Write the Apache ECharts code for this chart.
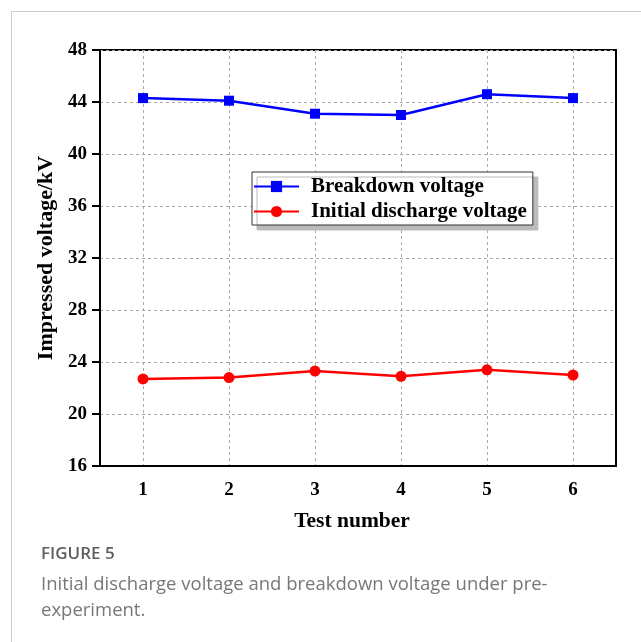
<!DOCTYPE html>
<html><head><meta charset="utf-8">
<script src="https://cdn.jsdelivr.net/npm/echarts@6/dist/echarts.min.js"></script>
<style>html,body{margin:0;padding:0;background:#fff;}#c{width:641px;height:642px;}</style>
</head><body><div id="c"></div>
<script>
const categories = ['1', '2', '3', '4', '5', '6'];
const breakdownVoltage = [44.3, 44.1, 43.1, 43.0, 44.6, 44.3];
const initialDischargeVoltage = [22.7, 22.8, 23.3, 22.9, 23.4, 23.0];
const yTicks = { min: 16, max: 48, interval: 4 };
const seriesNames = ['Breakdown voltage', 'Initial discharge voltage'];
const xName = 'Test number';
const yName = 'Impressed voltage/kV';
const captionTitle = 'FIGURE 5';
const captionLines = ['Initial discharge voltage and breakdown voltage under pre-', 'experiment.'];

const serif = '"Liberation Serif", "Times New Roman", serif';
const chart = echarts.init(document.getElementById('c'), null, { renderer: 'canvas' });
chart.setOption({
  backgroundColor: '#fff',
  animation: false,
  grid: { left: 100, right: 25, top: 50, bottom: 176, show: true, borderColor: '#000', borderWidth: 2 },
  legend: {
    orient: 'vertical', left: 252, top: 172,
    padding: [4, 6, 3, 1], itemGap: 4, itemWidth: 45, itemHeight: 14,
    backgroundColor: '#fff', borderColor: '#333', borderWidth: 1,
    shadowColor: '#bbb', shadowBlur: 0, shadowOffsetX: 5, shadowOffsetY: 5,
    textStyle: { fontFamily: serif, fontWeight: 'bold', fontSize: 21, color: '#000', padding: [0, 0, 0, 7] },
    data: seriesNames
  },
  xAxis: {
    type: 'category', data: categories, boundaryGap: true,
    name: xName, nameLocation: 'middle', nameGap: 44,
    nameTextStyle: { fontFamily: serif, fontWeight: 'bold', fontSize: 21.5, color: '#000', padding: [0, 12, 0, 0] },
    axisLine: { lineStyle: { color: '#000', width: 2 } },
    axisTick: { alignWithLabel: true, length: 7, lineStyle: { color: '#000', width: 2 } },
    axisLabel: { fontFamily: serif, fontWeight: 'bold', fontSize: 19, color: '#000', margin: 15 },
    splitLine: { show: true, alignWithLabel: true, lineStyle: { color: '#aaa', type: [3, 3], width: 1 } }
  },
  yAxis: {
    type: 'value', min: yTicks.min, max: yTicks.max, interval: yTicks.interval,
    name: yName, nameLocation: 'middle', nameGap: 39,
    nameTextStyle: { fontFamily: serif, fontWeight: 'bold', fontSize: 22, color: '#000' },
    axisLine: { show: true, lineStyle: { color: '#000', width: 2 } },
    axisTick: { show: true, length: 8, lineStyle: { color: '#000', width: 2 } },
    axisLabel: { fontFamily: serif, fontWeight: 'bold', fontSize: 19, color: '#000', margin: 13 },
    splitLine: { show: true, lineStyle: { color: '#aaa', type: [3, 3], width: 1 } }
  },
  series: [
    { name: seriesNames[0], type: 'line', data: breakdownVoltage, symbol: 'rect', symbolSize: 10,
      lineStyle: { color: '#0000ff', width: 2.5 }, itemStyle: { color: '#0000ff' } },
    { name: seriesNames[1], type: 'line', data: initialDischargeVoltage, symbol: 'circle', symbolSize: 11,
      lineStyle: { color: '#ff0000', width: 2.5 }, itemStyle: { color: '#ff0000' } }
  ],
  graphic: [
    { type: 'rect', left: 9, top: 9, shape: { width: 700, height: 700 }, silent: true,
      style: { fill: 'none', stroke: '#ccc', lineWidth: 1 } },
    { type: 'text', left: 41, top: 546, silent: true,
      style: { text: captionTitle, fontFamily: '"Open Sans", sans-serif', fontWeight: 600, fontSize: 17, fill: '#5f5f5f' } },
    { type: 'text', left: 41, top: 572, silent: true,
      style: { text: captionLines.join('\n'), lineHeight: 26, fontFamily: '"Open Sans", sans-serif', fontSize: 18.5, fill: '#777' } }
  ]
});
</script></body></html>
